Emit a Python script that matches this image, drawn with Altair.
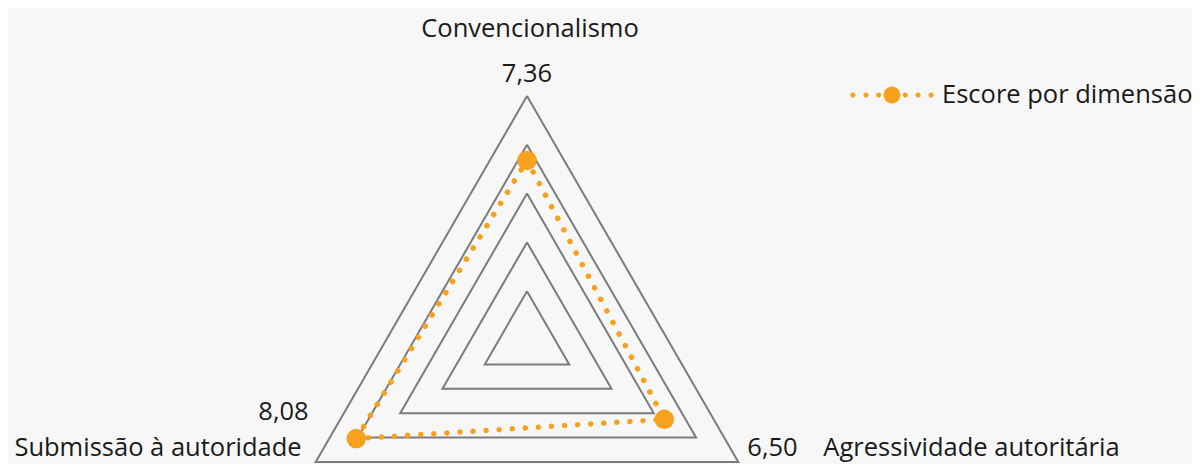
import math
import altair as alt
import pandas as pd

# ---- data ----
categories = ["Convencionalismo", "Agressividade autoritária", "Submissão à autoridade"]
values = [7.36, 6.50, 8.08]
value_labels = ["7,36", "6,50", "8,08"]
ring_levels = [2, 4, 6, 8, 10]
scale_max = 10
series_name = "Escore por dimensão"

# ---- styling / layout ----
ORANGE = "#F7A11E"
GRID = "#7c7c7c"
TEXT = "#1a1a1a"
FONT = "Open Sans"
FS = 25.5
BG = "#f7f7f7"

W, H = 1184, 456
cx, cy = 519, 332          # centre of radar in plot coords
R_px = 244                 # pixel radius of outer ring
ppu = R_px / scale_max     # pixels per unit

xmin = -cx / ppu
xmax = xmin + W / ppu
ymax = cy / ppu
ymin = ymax - H / ppu

n = len(categories)


def polar(i, r):
    a = 2 * math.pi * i / n
    return r * math.sin(a), r * math.cos(a)


# rings (closed triangles)
ring_rows = []
for lvl in ring_levels:
    for k in range(n + 1):
        x, y = polar(k % n, lvl)
        ring_rows.append({"level": lvl, "order": k, "x": x, "y": y})
rings = pd.DataFrame(ring_rows)

# series polygon (closed)
ser_rows = []
for k in range(n + 1):
    i = k % n
    x, y = polar(i, values[i])
    ser_rows.append({"order": k, "x": x, "y": y, "series": series_name})
ser = pd.DataFrame(ser_rows)

pts = ser[ser["order"] < n]

# vertices of the outer ring for labels
vert_rows = []
for i in range(n):
    x, y = polar(i, scale_max)
    vert_rows.append({"i": i, "x": x, "y": y, "cat": categories[i], "val": value_labels[i]})
verts = pd.DataFrame(vert_rows)

X = alt.X("x:Q", scale=alt.Scale(domain=[xmin, xmax], nice=False, zero=False), axis=None)
Y = alt.Y("y:Q", scale=alt.Scale(domain=[ymin, ymax], nice=False, zero=False), axis=None)

ring_layer = alt.Chart(rings).mark_line(color=GRID, strokeWidth=2, strokeJoin="miter").encode(
    x=X, y=Y, detail="level:N", order="order:Q"
)

line_layer = alt.Chart(ser).mark_line(
    color=ORANGE, strokeWidth=5.5, strokeDash=[0.1, 13], strokeCap="round"
).encode(x=X, y=Y, order="order:Q")


# legend symbol: dotted line with a big dot in the middle
def circ(cxu, r):
    return f"M{cxu - r},0A{r},{r} 0 1,0 {cxu + r},0A{r},{r} 0 1,0 {cxu - r},0Z"


sym = "".join(circ(c, 0.062) for c in [-0.93, -0.62, -0.317, 0.317, 0.62, 0.93]) + circ(0, 0.2)

point_layer = alt.Chart(pts).mark_circle(size=380, opacity=1).encode(
    x=X,
    y=Y,
    color=alt.Color(
        "series:N",
        scale=alt.Scale(domain=[series_name], range=[ORANGE]),
        legend=alt.Legend(
            title=None,
            orient="none",
            legendX=842,
            legendY=45,
            padding=0,
            symbolType=sym,
            symbolSize=7056,
            symbolStrokeWidth=0,
            symbolOpacity=1,
            labelFont=FONT,
            labelFontSize=FS,
            labelColor=TEXT,
            labelOffset=8,
            labelLimit=400,
        ),
    ),
)


def label(i, field, dx, dy, align):
    return alt.Chart(verts[verts["i"] == i]).mark_text(
        font=FONT, fontSize=FS, color=TEXT, align=align, baseline="alphabetic", dx=dx, dy=dy
    ).encode(x=X, y=Y, text=f"{field}:N")


texts = [
    label(0, "cat", 3, -59, "center"),
    label(0, "val", 0, -14, "center"),
    label(1, "val", 9, -6, "left"),
    label(1, "cat", 85, -6, "left"),
    label(2, "cat", -14, -6, "right"),
    label(2, "val", -7, -42, "right"),
]

chart = alt.layer(ring_layer, line_layer, point_layer, *texts).properties(
    width=W, height=H, padding=0, autosize=alt.AutoSizeParams(type="none"), background=BG
).configure_view(stroke=None)

chart.save("out.html", embed_options={"renderer": "svg", "actions": False})
